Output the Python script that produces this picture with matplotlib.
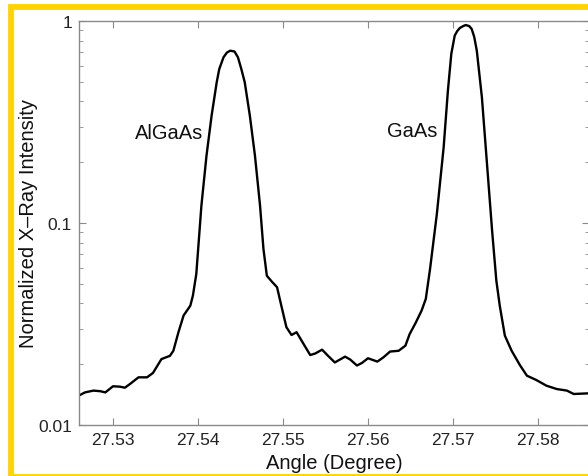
import numpy as np
import matplotlib
matplotlib.use("Agg")
import matplotlib.pyplot as plt
from matplotlib.patches import Rectangle
from matplotlib.ticker import LogLocator, NullFormatter, FixedLocator

plt.rcParams['font.family'] = ['Liberation Sans', 'DejaVu Sans']

# Rocking curve
angle = [27.5260, 27.5267, 27.5277, 27.5285, 27.5291, 27.5300, 27.5308, 27.5314,
         27.5320, 27.5330, 27.5340, 27.5347, 27.5357, 27.5367, 27.5371, 27.5377,
         27.5383, 27.5391, 27.5394, 27.5398, 27.5404, 27.5410, 27.5416, 27.5422,
         27.5425, 27.5430, 27.5434, 27.5438, 27.5443, 27.5447, 27.5451,
         27.5455, 27.5461, 27.5467, 27.5473, 27.5477,
         27.5481, 27.5487, 27.5493, 27.5498, 27.5504, 27.5510, 27.5516, 27.5522,
         27.5532, 27.5538, 27.5546, 27.5553, 27.5561, 27.5573, 27.5579, 27.5587,
         27.5593, 27.5600, 27.5611, 27.5618, 27.5626, 27.5636, 27.5644, 27.5649,
         27.5656, 27.5663, 27.5668, 27.5673, 27.5681, 27.5689, 27.5694, 27.5698,
         27.5702, 27.5705, 27.5708, 27.5712, 27.5715, 27.5719, 27.5722, 27.5725,
         27.5728, 27.5734, 27.5740, 27.5746,
         27.5751, 27.5755, 27.5761, 27.5769, 27.5779, 27.5787, 27.5798, 27.5810,
         27.5822, 27.5834, 27.5842, 27.5860]
intensity = [0.0140, 0.0145, 0.0148, 0.0147, 0.0145, 0.01555, 0.01548, 0.0153,
             0.01596, 0.01722, 0.01722, 0.01809, 0.0212, 0.0220, 0.0233, 0.0288,
             0.0348, 0.0390, 0.0437, 0.0559, 0.1218, 0.2155, 0.340, 0.497,
             0.578, 0.661, 0.698, 0.713, 0.706, 0.661, 0.578,
             0.497, 0.340, 0.2155, 0.1218, 0.0744,
             0.0548, 0.0512, 0.0481, 0.0390, 0.0305, 0.0279, 0.0288, 0.0261,
             0.0222, 0.0226, 0.0236, 0.0220, 0.0204, 0.0218, 0.0211, 0.0197,
             0.0203, 0.0214, 0.0206, 0.0216, 0.0231, 0.0233, 0.0247, 0.0282,
             0.0320, 0.0368, 0.0421, 0.0592, 0.1108, 0.237, 0.452, 0.687,
             0.846, 0.892, 0.923, 0.944, 0.955, 0.944, 0.913, 0.833,
             0.713, 0.419, 0.196, 0.0916,
             0.0518, 0.0390, 0.0277, 0.0233, 0.0197, 0.01754, 0.0167, 0.01565,
             0.01507, 0.0148, 0.01424, 0.01435]

x_ticks = [27.53, 27.54, 27.55, 27.56, 27.57, 27.58]
y_ticks = [0.01, 0.1, 1]
y_ticklabels = ['0.01', '0.1', '1']

peak_names = ['AlGaAs', 'GaAs']
peak_label_x = [27.5366, 27.5652]
peak_label_y = [0.282, 0.288]

fig = plt.figure(figsize=(5.88, 4.77), dpi=100)
ax = fig.add_axes([79 / 588, 51 / 477, 510 / 588, 404 / 477])

ax.plot(angle, intensity, color='black', lw=1.7, solid_joinstyle='round')
ax.set_yscale('log')
ax.set_xlim(27.526, 27.5860)
ax.set_ylim(0.01, 1)

ax.xaxis.set_major_locator(FixedLocator(x_ticks))
ax.set_xticklabels([f"{t:.2f}" for t in x_ticks])
ax.yaxis.set_major_locator(FixedLocator(y_ticks))
ax.set_yticklabels(y_ticklabels)
ax.yaxis.set_minor_locator(LogLocator(base=10, subs=np.arange(2, 10)))
ax.yaxis.set_minor_formatter(NullFormatter())

gray = '#8a8a8a'
for s in ax.spines.values():
    s.set_color(gray)
    s.set_linewidth(1.0)
ax.tick_params(which='both', direction='in', top=True, right=True,
               color=gray, labelsize=12.5, labelcolor='#222222')
ax.tick_params(which='major', length=5, pad=5)
ax.tick_params(which='minor', length=3)

ax.set_xlabel('Angle (Degree)', fontsize=14.5, color='#111111')
ax.set_ylabel('Normalized X\u2013Ray Intensity', fontsize=14.5, color='#111111')
ax.xaxis.set_label_coords(0.5, -28 / 404)
ax.yaxis.set_label_coords(-41 / 510, 0.5)

for name, lx, ly in zip(peak_names, peak_label_x, peak_label_y):
    ax.text(lx, ly, name, fontsize=14.5, ha='center', va='center',
            color='#111111')

# yellow frame around the figure
frame = Rectangle((11 / 588, -0.5 / 477), 600 / 588, 470 / 477,
                  transform=fig.transFigure, fill=False,
                  edgecolor='#FFD200', lw=4.2, clip_on=False)
fig.patches.append(frame)

fig.savefig('out.png', dpi=100)
